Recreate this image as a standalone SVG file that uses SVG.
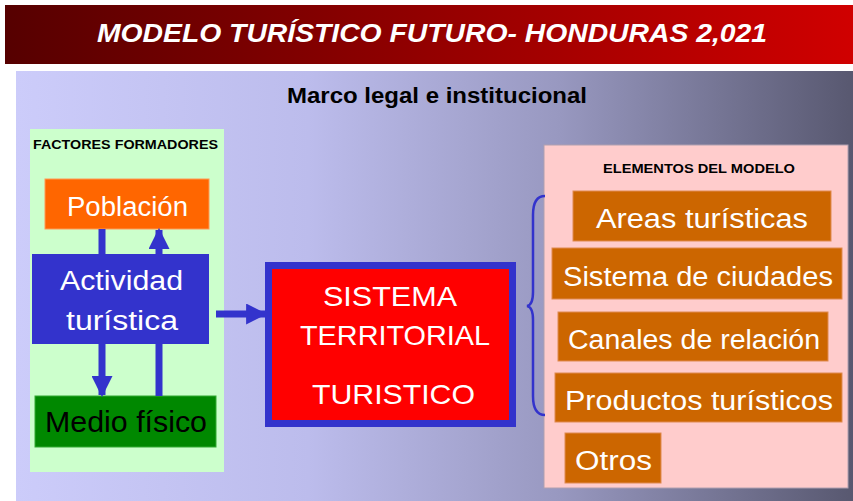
<svg xmlns="http://www.w3.org/2000/svg" width="853" height="501" viewBox="0 0 853 501">
<defs>
<linearGradient id="gTitle" x1="0" y1="0" x2="1" y2="0">
<stop offset="0" stop-color="#560000"/><stop offset="1" stop-color="#d00000"/>
</linearGradient>
<linearGradient id="gBg" x1="0" y1="0" x2="1" y2="0">
<stop offset="0" stop-color="#ccccfa"/><stop offset="0.35" stop-color="#bcbcec"/><stop offset="0.65" stop-color="#9898c0"/><stop offset="1" stop-color="#585870"/>
</linearGradient>
<marker id="ah" viewBox="0 0 10 10" refX="9" refY="5" markerWidth="3" markerHeight="3" orient="auto" markerUnits="strokeWidth">
<path d="M0,0 L10,5 L0,10 Z" fill="#3333cc"/>
</marker>
<style>
.f{font-family:"Comic Sans MS","Liberation Sans",sans-serif}
.w{fill:#ffffff}
.big{font-size:27px;text-anchor:middle}
.ob{fill:#cc6600;stroke:#e08a50;stroke-width:1}
.ln{stroke:#3333cc;stroke-width:7;fill:none}
</style>
</defs>
<rect width="853" height="501" fill="#ffffff"/>
<rect x="5" y="5" width="848" height="59" fill="url(#gTitle)"/>
<text class="f w" x="432" y="42" font-size="26" font-weight="bold" font-style="italic" text-anchor="middle" textLength="670" lengthAdjust="spacingAndGlyphs">MODELO TURÍSTICO FUTURO- HONDURAS 2,021</text>
<rect x="16" y="71" width="837" height="430" fill="url(#gBg)"/>
<text class="f" x="437" y="103" font-size="22" font-weight="bold" text-anchor="middle" textLength="300" lengthAdjust="spacingAndGlyphs">Marco legal e institucional</text>

<g id="factores">
<rect x="30" y="129" width="194" height="343" fill="#ccffcc"/>
<text class="f" x="33" y="149" font-size="12.5" font-weight="bold" textLength="185" lengthAdjust="spacingAndGlyphs">FACTORES FORMADORES</text>
</g>
<g id="poblacion">
<rect x="45" y="179" width="164" height="50" fill="#ff6600" stroke="#ff9955" stroke-width="1"/>
<text class="f w big" x="127.5" y="216" textLength="121" lengthAdjust="spacingAndGlyphs">Población</text>
</g>
<g id="actividad">
<rect x="32" y="254" width="177" height="90" fill="#3333cc"/>
<text class="f w big" x="121.5" y="290" textLength="123" lengthAdjust="spacingAndGlyphs">Actividad</text>
<text class="f w big" x="122" y="330" textLength="112" lengthAdjust="spacingAndGlyphs">turística</text>
</g>
<g id="medio">
<rect x="35" y="396" width="181" height="51" fill="#008800" stroke="#33aa33" stroke-width="1"/>
<text class="f" x="126" y="432" font-size="29" text-anchor="middle" fill="#000000" textLength="162" lengthAdjust="spacingAndGlyphs">Medio físico</text>
</g>
<g id="sistema">
<rect x="268.5" y="265.5" width="244" height="158" fill="#ff0000" stroke="#3333cc" stroke-width="7"/>
<text class="f w" x="390" y="306" font-size="28" text-anchor="middle" textLength="134" lengthAdjust="spacingAndGlyphs">SISTEMA</text>
<text class="f w" x="395" y="345" font-size="28" text-anchor="middle" textLength="190" lengthAdjust="spacingAndGlyphs">TERRITORIAL</text>
<text class="f w" x="393.5" y="404" font-size="28" text-anchor="middle" textLength="163" lengthAdjust="spacingAndGlyphs">TURISTICO</text>
</g>
<g id="elementos">
<rect x="544" y="145" width="304" height="343" fill="#ffcccc" stroke="#b0a0b0" stroke-width="1"/>
<text class="f" x="699" y="173" font-size="12.5" font-weight="bold" text-anchor="middle" textLength="192" lengthAdjust="spacingAndGlyphs">ELEMENTOS DEL MODELO</text>
</g>
<g id="areas">
<rect class="ob" x="573" y="191" width="258" height="50"/>
<text class="f w big" x="702" y="228" textLength="212" lengthAdjust="spacingAndGlyphs">Areas turísticas</text>
</g>
<g id="ciudades">
<rect class="ob" x="552" y="248" width="290" height="51"/>
<text class="f w big" x="698" y="286" textLength="270" lengthAdjust="spacingAndGlyphs">Sistema de ciudades</text>
</g>
<g id="canales">
<rect class="ob" x="558" y="312" width="270" height="49"/>
<text class="f w big" x="694" y="349" textLength="252" lengthAdjust="spacingAndGlyphs">Canales de relación</text>
</g>
<g id="productos">
<rect class="ob" x="555" y="373" width="287" height="49"/>
<text class="f w big" x="699" y="410" textLength="268" lengthAdjust="spacingAndGlyphs">Productos turísticos</text>
</g>
<g id="otros">
<rect class="ob" x="565" y="433" width="96" height="50"/>
<text class="f w big" x="613.5" y="470" textLength="77" lengthAdjust="spacingAndGlyphs">Otros</text>
</g>

<g id="connectors">
<line class="ln" x1="102" y1="229" x2="102" y2="254"/>
<line class="ln" x1="102" y1="344" x2="102" y2="395" marker-end="url(#ah)"/>
<line class="ln" x1="159" y1="396" x2="159" y2="344"/>
<line class="ln" x1="159" y1="254" x2="159" y2="230" marker-end="url(#ah)"/>
<line class="ln" x1="216" y1="314" x2="265" y2="314" marker-end="url(#ah)"/>
<path d="M545,196 Q533,196 533,215 L533,292 Q533,305 527,306 Q533,307 533,320 L533,396 Q533,415 545,415" fill="none" stroke="#3333cc" stroke-width="2.5"/>
</g>
</svg>
